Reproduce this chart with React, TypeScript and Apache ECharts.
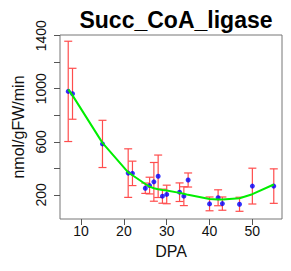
import React, { useEffect, useRef } from "react";
import * as echarts from "echarts";

const dpa = [7, 8, 15, 21, 22, 25, 26, 27, 28, 29, 30, 33, 34, 35, 40, 42, 43, 47, 50, 55];
const activity = [980, 962, 584, 364, 362, 250, 270, 298, 340, 190, 203, 220, 190, 312, 132, 178, 134, 129, 266, 266];
const sd = [378, 192, 178, 183, 92, 39, 63, 146, 160, 53, 70, 70, 71, 53, 52, 60, 50, 53, 135, 130];
const fitted = [995, 950, 592, 369, 348, 282, 262, 250, 243, 237, 233, 215, 208, 200, 168, 165, 165, 175, 205, 278];

const yTicks = [200, 400, 600, 800, 1000, 1200, 1400];
const yLabels = [200, 600, 1000, 1400];
const xTicks = [10, 20, 30, 40, 50];

const App: React.FC = () => {
  const ref = useRef<HTMLDivElement>(null);
  useEffect(() => {
    if (!ref.current) return;
    const chart = echarts.init(ref.current, undefined, { renderer: "svg" });
    const errData = dpa.map((x, i) => [x, activity[i] - sd[i], activity[i] + sd[i]]);
    chart.setOption({
      animation: false,
      backgroundColor: "#fff",
      textStyle: { fontFamily: "Liberation Sans, Arial, sans-serif" },
      title: {
        text: "Succ_CoA_ligase",
        left: 171,
        textAlign: "center",
        top: 3,
        textStyle: { fontSize: 23, fontWeight: "bold", color: "#000", fontFamily: "Liberation Sans, Arial, sans-serif" },
      },
      grid: {
        left: 60,
        right: 9,
        top: 35,
        bottom: 52,
        show: true,
        borderColor: "#777",
        borderWidth: 1,
        backgroundColor: "transparent",
      },
      xAxis: {
        type: "value",
        min: 5.08,
        max: 56.92,
        name: "DPA",
        nameLocation: "middle",
        nameGap: 24,
        nameTextStyle: { fontSize: 16, color: "#111" },
        axisLine: { show: false },
        splitLine: { show: false },
        axisTick: { show: true, length: 6, inside: false, customValues: xTicks, lineStyle: { color: "#555" } },
        axisLabel: { customValues: xTicks, fontSize: 14, color: "#111", margin: 5, formatter: (v: number) => String(v) },
      },
      yAxis: {
        type: "value",
        min: 18,
        max: 1405,
        name: "nmol/gFW/min",
        nameLocation: "middle",
        nameRotate: 90,
        nameGap: 24,
        nameTextStyle: { fontSize: 16, color: "#111" },
        axisLine: { show: false },
        splitLine: { show: false },
        axisTick: { show: true, length: 6, inside: false, customValues: yTicks, lineStyle: { color: "#555" } },
        axisLabel: { customValues: yLabels, fontSize: 14, color: "#111", rotate: 90, margin: 12, formatter: (v: number) => String(v) },
      },
      series: [
        {
          type: "custom",
          data: errData,
          z: 2,
          renderItem: (params: any, api: any) => {
            const x = api.value(0);
            const lo = api.coord([x, api.value(1)]);
            const hi = api.coord([x, api.value(2)]);
            const hw = 4;
            const style = { stroke: "#ff4d4d", lineWidth: 1.2 };
            return {
              type: "group",
              children: [
                { type: "line", shape: { x1: lo[0], y1: lo[1], x2: hi[0], y2: hi[1] }, style },
                { type: "line", shape: { x1: lo[0] - hw, y1: lo[1], x2: lo[0] + hw, y2: lo[1] }, style },
                { type: "line", shape: { x1: hi[0] - hw, y1: hi[1], x2: hi[0] + hw, y2: hi[1] }, style },
              ],
            };
          },
        },
        {
          type: "scatter",
          data: dpa.map((x, i) => [x, activity[i]]),
          symbol: "circle",
          symbolSize: 5,
          itemStyle: { color: "#0000ff" },
          z: 3,
        },
        {
          type: "line",
          data: dpa.map((x, i) => [x, fitted[i]]),
          showSymbol: false,
          symbol: "none",
          lineStyle: { color: "#00ee00", width: 2 },
          z: 4,
        },
      ],
    });
    return () => chart.dispose();
  }, []);
  return <div ref={ref} style={{ position: "fixed", left: 0, top: 0, width: 291, height: 271 }} />;
};

export default App;
